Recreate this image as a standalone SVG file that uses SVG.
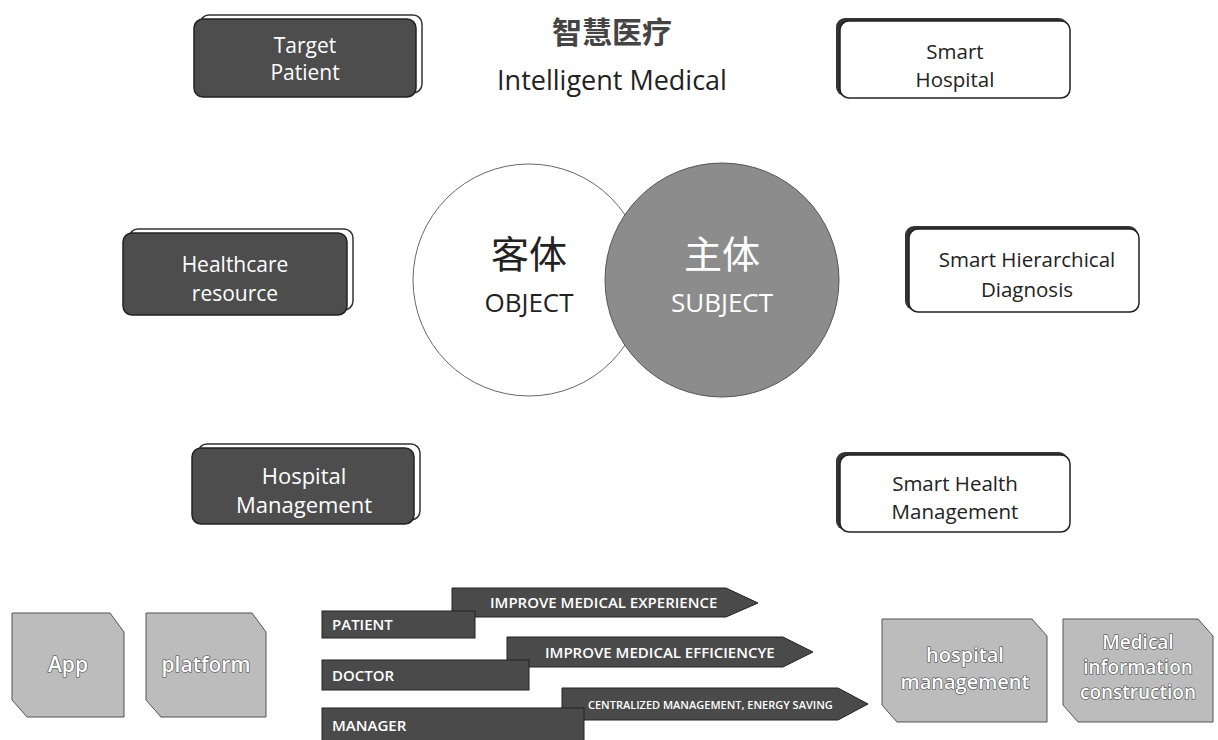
<svg xmlns="http://www.w3.org/2000/svg" width="1218" height="740" viewBox="0 0 1218 740">
<style>
text{font-family:"Open Sans","Liberation Sans","Noto Sans CJK SC",sans-serif;text-anchor:middle}
.dark{fill:#4d4d4d;stroke:#222;stroke-width:1.5}
.back{fill:#fff;stroke:#333;stroke-width:1.5}
.wt{fill:#fff;font-size:21px}
.light{fill:#fff;stroke:#222;stroke-width:1.5}
.shadow{fill:#333}
.bt{fill:#222;font-size:20.5px}
.tile{fill:#bcbcbc;stroke:#555;stroke-width:1}
.tt{fill:#fff;stroke:#444;stroke-width:1.2;paint-order:stroke;font-size:20px;font-weight:600}
.tm{font-size:19px}
.bar{fill:#4a4a4a;stroke:#222;stroke-width:1}
.bl{fill:#fff;font-size:15px;font-weight:600;text-anchor:start}
</style>
<g id="title">
<text x="612" y="43" style="font-size:30px;fill:#444;font-weight:700;font-family:'Noto Sans CJK SC',sans-serif">智慧医疗</text>
<text x="612" y="90" style="font-size:27px;fill:#222">Intelligent Medical</text>
</g>
<g id="target-patient">
<rect class="back" x="200" y="15" width="222" height="78" rx="9"/>
<rect class="dark" x="194" y="19" width="222" height="78" rx="9"/>
<text class="wt" x="305" y="53">Target</text>
<text class="wt" x="305" y="80">Patient</text>
</g>
<g id="smart-hospital">
<rect class="shadow" x="836" y="18" width="232" height="78" rx="9"/>
<rect class="light" x="840" y="21" width="230" height="77" rx="9"/>
<text class="bt" x="955" y="59">Smart</text>
<text class="bt" x="955" y="87">Hospital</text>
</g>
<g id="healthcare-resource">
<rect class="back" x="129" y="229" width="224" height="81" rx="9"/>
<rect class="dark" x="123" y="233" width="224" height="82" rx="9"/>
<text class="wt" x="235" y="272">Healthcare</text>
<text class="wt" x="235" y="301">resource</text>
</g>
<g id="smart-hierarchical-diagnosis">
<rect class="shadow" x="905" y="226" width="233" height="84" rx="9"/>
<rect class="light" x="909" y="229" width="230" height="83" rx="9"/>
<text class="bt" x="1027" y="267">Smart Hierarchical</text>
<text class="bt" x="1027" y="297">Diagnosis</text>
</g>
<g id="hospital-management">
<rect class="back" x="198" y="444" width="222" height="76" rx="9"/>
<rect class="dark" x="192" y="448" width="222" height="76" rx="9"/>
<text class="wt" x="304" y="484" style="font-size:22px">Hospital</text>
<text class="wt" x="304" y="513" style="font-size:22px">Management</text>
</g>
<g id="smart-health-management">
<rect class="shadow" x="836" y="452" width="232" height="78" rx="9"/>
<rect class="light" x="840" y="455" width="230" height="77" rx="9"/>
<text class="bt" x="955" y="491">Smart Health</text>
<text class="bt" x="955" y="519">Management</text>
</g>
<g id="object">
<circle cx="529" cy="280" r="116" fill="#fff" stroke="#666" stroke-width="1"/>
<text x="529" y="268" style="font-size:38px;fill:#222;font-family:'Noto Sans CJK SC',sans-serif">客体</text>
<text x="529" y="312" style="font-size:26px;fill:#222">OBJECT</text>
</g>
<g id="subject">
<circle cx="722" cy="280" r="117" fill="#8c8c8c" stroke="#555" stroke-width="1"/>
<text x="722" y="268" style="font-size:38px;fill:#fff;font-family:'Noto Sans CJK SC',sans-serif">主体</text>
<text x="722" y="312" style="font-size:26px;fill:#fff">SUBJECT</text>
</g>
<g id="app">
<polygon class="tile" points="12,613 110,613 124,632 124,717 27,717 12,700"/>
<text class="tt" x="68" y="672" style="font-size:21px">App</text>
</g>
<g id="platform">
<polygon class="tile" points="146,613 252,613 266,632 266,717 161,717 146,700"/>
<text class="tt" x="206" y="672" style="font-size:21px">platform</text>
</g>
<g id="hospital-management-tile">
<polygon class="tile" points="882,619 1032,619 1047,636 1047,722 897,722 882,705"/>
<text class="tt" x="965" y="662">hospital</text>
<text class="tt" x="965" y="689">management</text>
</g>
<g id="medical-information-construction">
<polygon class="tile" points="1063,619 1198,619 1213,636 1213,722 1078,722 1063,705"/>
<text class="tt tm" x="1138" y="649">Medical</text>
<text class="tt tm" x="1138" y="674">information</text>
<text class="tt tm" x="1138" y="699">construction</text>
</g>
<g id="connectors">
<polygon class="bar" points="452,588 726,588 758,603 726,617 452,617"/>
<rect class="bar" x="322" y="611" width="153" height="27"/>
<text class="bl" x="490" y="608">IMPROVE MEDICAL EXPERIENCE</text>
<text class="bl" x="332" y="630">PATIENT</text>
<polygon class="bar" points="507,637 783,637 813,652 783,667 507,667"/>
<rect class="bar" x="322" y="660" width="207" height="30"/>
<text class="bl" x="545" y="658">IMPROVE MEDICAL EFFICIENCYE</text>
<text class="bl" x="332" y="681">DOCTOR</text>
<polygon class="bar" points="562,688 838,688 868,704 838,720 562,720"/>
<rect class="bar" x="322" y="708" width="262" height="34"/>
<text class="bl" x="588" y="709" style="font-size:11px">CENTRALIZED MANAGEMENT, ENERGY SAVING</text>
<text class="bl" x="332" y="731">MANAGER</text>
</g>
</svg>
